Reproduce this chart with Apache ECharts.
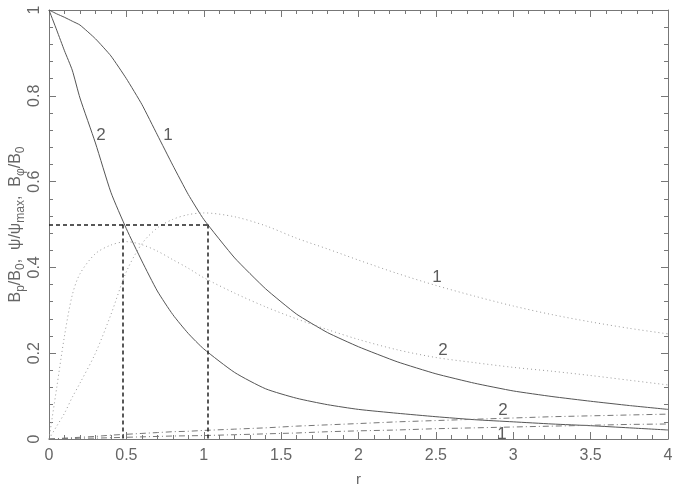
<!DOCTYPE html>
<html>
<head>
<meta charset="utf-8">
<script src="https://cdn.jsdelivr.net/npm/echarts@6/dist/echarts.min.js"></script>
<style>
  html, body { margin: 0; padding: 0; background: #fff; }
  #chart { width: 677px; height: 491px; }
</style>
</head>
<body>
<div id="chart"></div>
<script>
// radius grid shared by every curve
const r = [0, 0.05, 0.1, 0.15, 0.2, 0.3, 0.4, 0.5, 0.6, 0.7, 0.8, 0.9, 1.0,
  1.2, 1.4, 1.6, 1.8, 2.0, 2.25, 2.5, 2.75, 3.0, 3.25, 3.5, 3.75, 4.0];

// B_p / B_0 (solid)
const bp1 = [1, 0.991, 0.983, 0.974, 0.965, 0.933, 0.893, 0.84, 0.78, 0.709, 0.638, 0.57, 0.512,
  0.422, 0.35, 0.291, 0.248, 0.215, 0.18, 0.152, 0.13, 0.112, 0.099, 0.088, 0.078, 0.069];
const bp2 = [1, 0.953, 0.905, 0.86, 0.795, 0.69, 0.575, 0.49, 0.415, 0.345, 0.29, 0.246, 0.21,
  0.155, 0.117, 0.095, 0.08, 0.069, 0.06, 0.052, 0.045, 0.04, 0.035, 0.031, 0.026, 0.021];

// psi / psi_max (dotted)
const psi1 = [0, 0.03, 0.06, 0.097, 0.13, 0.2, 0.29, 0.39, 0.455, 0.492, 0.512, 0.523, 0.527,
  0.518, 0.497, 0.468, 0.443, 0.417, 0.386, 0.358, 0.333, 0.31, 0.29, 0.273, 0.258, 0.245];
const psi2 = [0, 0.12, 0.24, 0.335, 0.385, 0.432, 0.452, 0.46, 0.453, 0.438, 0.418, 0.398, 0.376,
  0.34, 0.308, 0.28, 0.255, 0.232, 0.208, 0.19, 0.178, 0.167, 0.158, 0.148, 0.137, 0.126];

// B_phi / B_0 (dash-dot)
const bphi1 = [0, 0, 0.001, 0.001, 0.002, 0.002, 0.003, 0.004, 0.005, 0.006, 0.007, 0.0075, 0.008,
  0.01, 0.012, 0.014, 0.017, 0.019, 0.021, 0.024, 0.026, 0.028, 0.03, 0.032, 0.034, 0.035];
const bphi2 = [0, 0.001, 0.002, 0.003, 0.004, 0.006, 0.009, 0.011, 0.013, 0.015, 0.017, 0.018, 0.02,
  0.023, 0.026, 0.03, 0.033, 0.036, 0.04, 0.043, 0.046, 0.049, 0.052, 0.054, 0.056, 0.058];

// dashed guide lines: half-value radii
const halfLevel = 0.5;
const halfR = [0.476, 1.023];

// curve labels [r, value, text]
const curveLabels = [
  [0.336, 0.709, '2'], [0.769, 0.709, '1'],
  [2.507, 0.378, '1'], [2.546, 0.207, '2'],
  [2.934, 0.068, '2'], [2.927, 0.012, '1']
];

const xTicks = ['0', '0.5', '1', '1.5', '2', '2.5', '3', '3.5', '4'];
const yTicks = ['0', '0.2', '0.4', '0.6', '0.8', '1'];

const pair = (ys) => r.map((x, i) => [x, ys[i]]);
const axisColor = '#777';
const textColor = '#666';
const font = 'Liberation Sans';

const baseAxis = {
  type: 'value',
  axisLine: { show: true, onZero: false, lineStyle: { color: axisColor, width: 1 } },
  axisTick: { show: true, inside: true, length: 7, lineStyle: { color: axisColor } },
  minorTick: { show: true, splitNumber: 5, length: 4, lineStyle: { color: axisColor } },
  splitLine: { show: false },
};

const chart = echarts.init(document.getElementById('chart'));
chart.setOption({
  animation: false,
  backgroundColor: '#fff',
  grid: { left: 49, right: 9, top: 10, bottom: 52, containLabel: false, outerBoundsMode: 'none' },
  xAxis: [
    {
      ...baseAxis, min: 0, max: 4, interval: 0.5, position: 'bottom',
      name: 'r', nameLocation: 'middle', nameGap: 33, nameMoveOverlap: false,
      nameTextStyle: { color: textColor, fontFamily: font, fontSize: 15 },
      axisLabel: {
        color: textColor, fontFamily: font, fontSize: 16, margin: 9,
        formatter: (v) => xTicks[Math.round(v / 0.5)] ?? ''
      },
    },
    { ...baseAxis, min: 0, max: 4, interval: 0.5, position: 'top', axisLabel: { show: false } },
  ],
  yAxis: [
    {
      ...baseAxis, min: 0, max: 1, interval: 0.2, position: 'left',
      name: 'B{s|p}/B{s|0},  ψ/ψ{s|max},  B{s|φ}/B{s|0}',
      nameLocation: 'middle', nameRotate: 90, nameGap: 33, nameMoveOverlap: false,
      nameTextStyle: {
        color: textColor, fontFamily: font, fontSize: 16, lineHeight: 22, verticalAlign: 'middle',
        rich: { s: { fontFamily: font, fontSize: 12, color: textColor, verticalAlign: 'bottom', lineHeight: 22 } }
      },
      axisLabel: {
        color: textColor, fontFamily: font, fontSize: 16, rotate: 90, margin: 6,
        formatter: (v) => yTicks[Math.round(v / 0.2)] ?? ''
      },
    },
    { ...baseAxis, min: 0, max: 1, interval: 0.2, position: 'right', axisLabel: { show: false } },
  ],
  series: [
    { type: 'line', data: pair(bp1), showSymbol: false, smooth: 0.15, lineStyle: { color: '#555', width: 1 } },
    { type: 'line', data: pair(bp2), showSymbol: false, smooth: 0.2, lineStyle: { color: '#555', width: 1 } },
    { type: 'line', data: pair(psi1), showSymbol: false, smooth: 0.3, lineStyle: { color: '#999', width: 1, type: [1, 3] } },
    { type: 'line', data: pair(psi2), showSymbol: false, smooth: 0.3, lineStyle: { color: '#999', width: 1, type: [1, 3] } },
    { type: 'line', data: pair(bphi1), showSymbol: false, lineStyle: { color: '#777', width: 1, type: [6, 3, 1, 3] } },
    { type: 'line', data: pair(bphi2), showSymbol: false, lineStyle: { color: '#777', width: 1, type: [6, 3, 1, 3] } },
    {
      type: 'line', data: [], showSymbol: false,
      markLine: {
        symbol: 'none', silent: true, animation: false,
        label: { show: false },
        lineStyle: { color: '#222', width: 1.5, type: [4, 3] },
        data: [
          [{ coord: [0, halfLevel] }, { coord: [halfR[1], halfLevel] }],
          [{ coord: [halfR[0], halfLevel] }, { coord: [halfR[0], 0] }],
          [{ coord: [halfR[1], halfLevel] }, { coord: [halfR[1], 0] }],
        ],
      },
    },
    {
      type: 'scatter', symbolSize: 0, silent: true,
      data: curveLabels.map((d) => ({ value: [d[0], d[1]], label: { formatter: d[2] } })),
      label: { show: true, position: 'inside', color: '#333', fontFamily: font, fontSize: 17 },
    },
  ],
});
</script>
</body>
</html>
